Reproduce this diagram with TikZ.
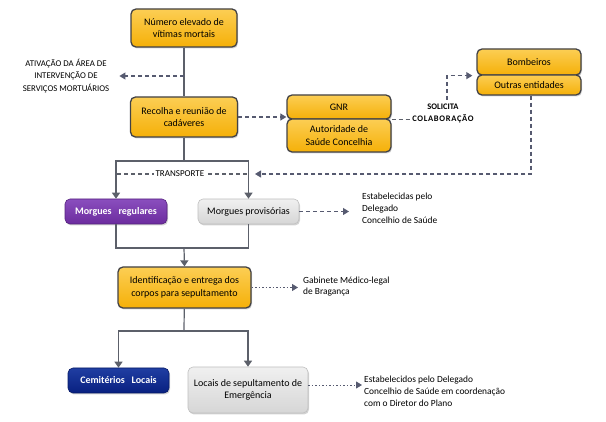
\documentclass[tikz,border=0pt]{standalone}
\usepackage{fontspec}
\setmainfont{Carlito}
\usepackage{xcolor}
\usepackage{tikz}
\usetikzlibrary{calc}
\usetikzlibrary{arrows.meta}
\usetikzlibrary{shapes}
\usetikzlibrary{shadows}
\usetikzlibrary{positioning}

\definecolor{boxgold}{RGB}{245,176,8}
\definecolor{boxgoldtop}{RGB}{252,206,84}
\definecolor{boxedge}{RGB}{66,66,70}
\definecolor{linegray}{RGB}{92,96,106}
\definecolor{tipgray}{RGB}{86,90,112}
\definecolor{morguepurple}{RGB}{108,44,158}
\definecolor{morguepurpletop}{RGB}{138,78,190}
\definecolor{lightbox}{RGB}{214,214,214}
\definecolor{lightboxtop}{RGB}{240,240,240}
\definecolor{cemblue}{RGB}{8,32,128}
\definecolor{cembluetop}{RGB}{32,62,162}

\begin{document}
\begin{tikzpicture}[x=1pt, y=-1pt,
  boxshadow/.style={drop shadow={shadow xshift=1pt, shadow yshift=-1.5pt, opacity=0.35}},
  goldbox/.style={rectangle, rounded corners=5pt, draw=boxedge, line width=1.3pt, top color=boxgoldtop, bottom color=boxgold, align=center, inner sep=0pt, font=\fontsize{10}{12.5}\selectfont, boxshadow},
  purplebox/.style={rectangle, rounded corners=5pt, draw=morguepurple!80!black, line width=0.6pt, top color=morguepurpletop, bottom color=morguepurple, text=white, align=center, inner sep=0pt, font=\fontsize{10}{12.5}\selectfont\bfseries, boxshadow},
  bluebox/.style={rectangle, rounded corners=5pt, draw=cemblue!80!black, line width=0.6pt, top color=cembluetop, bottom color=cemblue, text=white, align=center, inner sep=0pt, font=\fontsize{10}{12.5}\selectfont\bfseries, boxshadow},
  greybox/.style={rectangle, rounded corners=5pt, draw=black!25, line width=0.6pt, top color=lightboxtop, bottom color=lightbox, align=center, inner sep=0pt, font=\fontsize{10}{12.5}\selectfont, boxshadow},
  caption/.style={align=center, font=\fontsize{8.8}{12.5}\selectfont},
  note/.style={align=left, anchor=west, inner ysep=0pt, font=\fontsize{9.4}{11.8}\selectfont},
  flow/.style={draw=linegray, line width=1.2pt},
  flowarrow/.style={flow, -{Triangle[length=6pt,width=8pt]}, color=linegray},
  dashline/.style={draw=linegray, line width=1.1pt, dash pattern=on 4pt off 3pt},
  dasharrow/.style={dashline, -{Triangle[length=6pt,width=7pt]}, color=tipgray},
  dotarrow/.style={draw=linegray, line width=0.9pt, dash pattern=on 1.5pt off 2pt, -{Triangle[length=6pt,width=7pt]}, color=tipgray}]
\useasboundingbox (0,0) rectangle (606,422);

\node [goldbox, minimum width=106pt, minimum height=38pt] (numero) at (184,28) {Número elevado de\\vítimas mortais};
\node [goldbox, minimum width=107pt, minimum height=40pt] (recolha) at (184,117) {Recolha e reunião de\\cadáveres};
\node [goldbox, minimum width=104pt, minimum height=24pt] (gnr) at (339,107) {GNR};
\node [goldbox, minimum width=104pt, minimum height=33pt] (autoridade) at (339,135.5) {Autoridade de\\Saúde Concelhia};
\node [goldbox, minimum width=104pt, minimum height=26pt] (bombeiros) at (529,62) {Bombeiros};
\node [goldbox, minimum width=104pt, minimum height=20pt] (outras) at (529,85) {Outras entidades};
\node [purplebox, minimum width=102pt, minimum height=25pt] (mregulares) at (116,211.5) {Morgues\ \ \ regulares};
\node [greybox, minimum width=101pt, minimum height=25pt] (mprovisorias) at (248.5,211.5) {Morgues provisórias};
\node [goldbox, minimum width=133pt, minimum height=41pt] (identificacao) at (184.5,287.5) {Identificação e entrega dos\\corpos para sepultamento};
\node [bluebox, minimum width=101pt, minimum height=25pt] (cemiterios) at (118.5,380.5) {Cemitérios\ \ \ Locais};
\node [greybox, minimum width=120pt, minimum height=46pt] (locais) at (248,390) {Locais de sepultamento de\\Emergência};

\node [caption, inner xsep=10pt] (ativacao) at (66,76) {ATIVAÇÃO DA ÁREA DE\\INTERVENÇÃO DE\\SERVIÇOS MORTUÁRIOS};
\node [caption, inner xsep=1pt, font=\fontsize{8.5}{12}\selectfont\bfseries] (solicita) at (443,113) {SOLICITA\\{\addfontfeatures{LetterSpace=8}COLABORAÇÃO}};
\node [note, inner xsep=13pt] (estabelecidas) at (349,208) {Estabelecidas pelo\\Delegado\\Concelhio de Saúde};
\node [note, inner xsep=5pt] (gabinete) at (298,286.5) {Gabinete Médico-legal\\de Bragança};
\node [note, inner xsep=2pt] (estabelecidos) at (362,391) {Estabelecidos pelo Delegado\\Concelhio de Saúde em coordenação\\com o Diretor do Plano};

\coordinate (ativsplit) at (184,76);
\coordinate (split1) at (184,161);
\coordinate (merge1) at (184,248);
\coordinate (split2) at (184,331);
\coordinate (transpleft) at (117,174);
\coordinate (transpright) at (248,174);
\coordinate (transpend) at (255,174);

\draw [flow] (numero) to (recolha);
\draw [dasharrow] (ativsplit) to (ativacao.east);
\draw [dasharrow] (recolha.east) to (recolha.east -| gnr.west);
\draw [dashline] (gnr.south east) to (gnr.south east -| solicita.west);
\draw [dasharrow] ([xshift=4pt]solicita.north) |- ([xshift=-4pt]bombeiros.south west);
\draw [dasharrow] ([xshift=2pt]outras.south) |- (transpend);
\draw [dashline] (transpleft) to node [fill=white, inner xsep=2pt, font=\fontsize{9}{10}\selectfont, pos=0.48] (transporte) {TRANSPORTE} (transpright);

\draw [flow] (recolha) to (split1);
\draw [flowarrow] (split1) -| (mregulares.north);
\draw [flowarrow] (split1) -| (mprovisorias.north);
\draw [flow] (mregulares.south) |- (merge1);
\draw [flow] (mprovisorias.south) |- (merge1);
\draw [flowarrow] (merge1) to (identificacao.north);
\draw [dasharrow] (mprovisorias.east) to (mprovisorias.east -| estabelecidas.west);

\draw [dotarrow] (identificacao.east) to (identificacao.east -| gabinete.west);
\draw [flow] (identificacao) to (split2);
\draw [flowarrow] (split2) -| (cemiterios.north);
\draw [flowarrow] (split2) -| (locais.north);
\draw [dotarrow] ([yshift=5pt]locais.east) to ([yshift=5pt]locais.east -| estabelecidos.west);
\end{tikzpicture}
\end{document}
